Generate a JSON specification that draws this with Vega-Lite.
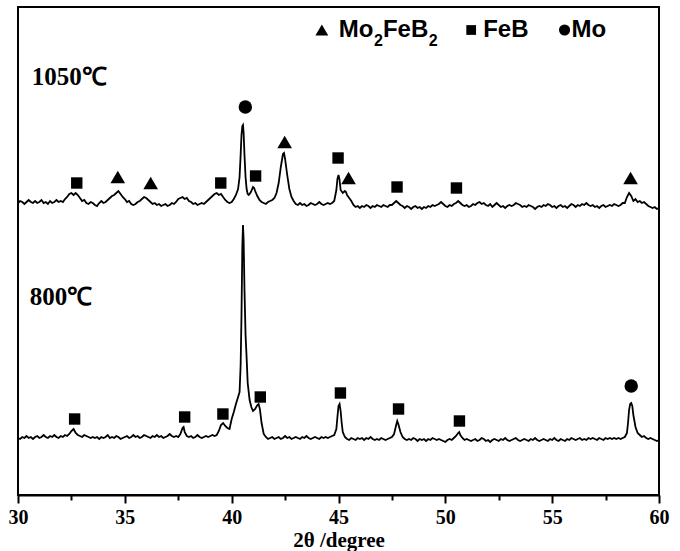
{
"$schema": "https://vega.github.io/schema/vega-lite/v6.json",
"width": 641, "height": 488,
"autosize": {"type": "none"},
"padding": {"left": 18, "top": 7, "right": 21, "bottom": 56},
"background": "white",
"config": {"view": {"stroke": "black", "strokeWidth": 2}},
"datasets": {
"a": [
{"x":30.0,"y":292},{"x":30.1,"y":294},{"x":30.2,"y":293},{"x":30.3,"y":291},{"x":30.4,"y":293},{"x":30.5,"y":295},{"x":30.6,"y":293},{"x":30.7,"y":292},{"x":30.8,"y":294},{"x":30.9,"y":292},
{"x":31.0,"y":293},{"x":31.1,"y":295},{"x":31.2,"y":292},{"x":31.3,"y":293},{"x":31.4,"y":291},{"x":31.5,"y":294},{"x":31.6,"y":292},{"x":31.7,"y":293},{"x":31.8,"y":295},{"x":31.9,"y":293},
{"x":32.0,"y":294},{"x":32.1,"y":293},{"x":32.2,"y":296},{"x":32.3,"y":298},{"x":32.4,"y":301},{"x":32.5,"y":302},{"x":32.6,"y":300},{"x":32.7,"y":302},{"x":32.8,"y":300},{"x":32.9,"y":297},
{"x":33.0,"y":294},{"x":33.1,"y":295},{"x":33.2,"y":292},{"x":33.3,"y":291},{"x":33.4,"y":293},{"x":33.5,"y":292},{"x":33.6,"y":290},{"x":33.7,"y":289},{"x":33.8,"y":292},{"x":33.9,"y":294},
{"x":34.0,"y":292},{"x":34.1,"y":293},{"x":34.2,"y":295},{"x":34.3,"y":297},{"x":34.4,"y":299},{"x":34.5,"y":300},{"x":34.6,"y":302},{"x":34.7,"y":304},{"x":34.8,"y":301},{"x":34.9,"y":298},
{"x":35.0,"y":296},{"x":35.1,"y":293},{"x":35.2,"y":294},{"x":35.3,"y":291},{"x":35.4,"y":290},{"x":35.5,"y":291},{"x":35.6,"y":293},{"x":35.7,"y":294},{"x":35.8,"y":296},{"x":35.9,"y":298},
{"x":36.0,"y":297},{"x":36.1,"y":295},{"x":36.2,"y":293},{"x":36.3,"y":291},{"x":36.4,"y":292},{"x":36.5,"y":290},{"x":36.6,"y":291},{"x":36.7,"y":289},{"x":36.8,"y":290},{"x":36.9,"y":291},
{"x":37.0,"y":289},{"x":37.1,"y":290},{"x":37.2,"y":292},{"x":37.3,"y":291},{"x":37.4,"y":293},{"x":37.5,"y":296},{"x":37.6,"y":297},{"x":37.7,"y":298},{"x":37.8,"y":296},{"x":37.9,"y":297},
{"x":38.0,"y":294},{"x":38.1,"y":293},{"x":38.2,"y":291},{"x":38.3,"y":292},{"x":38.4,"y":290},{"x":38.5,"y":291},{"x":38.6,"y":292},{"x":38.7,"y":291},{"x":38.8,"y":293},{"x":38.9,"y":295},
{"x":39.0,"y":297},{"x":39.1,"y":299},{"x":39.2,"y":301},{"x":39.3,"y":302},{"x":39.4,"y":300},{"x":39.5,"y":301},{"x":39.6,"y":298},{"x":39.7,"y":295},{"x":39.8,"y":293},{"x":39.9,"y":292},
{"x":40.0,"y":293},{"x":40.1,"y":296},{"x":40.2,"y":300},{"x":40.3,"y":306},{"x":40.37,"y":318},{"x":40.42,"y":340},{"x":40.46,"y":360},{"x":40.5,"y":369},{"x":40.53,"y":370},{"x":40.56,"y":362},
{"x":40.6,"y":340},{"x":40.65,"y":318},{"x":40.7,"y":306},{"x":40.75,"y":301},{"x":40.8,"y":300},{"x":40.9,"y":303},{"x":41.0,"y":308},{"x":41.05,"y":307},{"x":41.1,"y":304},{"x":41.2,"y":299},
{"x":41.3,"y":295},{"x":41.4,"y":293},{"x":41.5,"y":292},{"x":41.6,"y":291},{"x":41.7,"y":293},{"x":41.8,"y":294},{"x":41.9,"y":295},{"x":42.0,"y":297},{"x":42.1,"y":302},{"x":42.2,"y":312},
{"x":42.3,"y":328},{"x":42.4,"y":341},{"x":42.45,"y":342},{"x":42.5,"y":336},{"x":42.6,"y":320},{"x":42.7,"y":306},{"x":42.8,"y":298},{"x":42.9,"y":294},{"x":43.0,"y":291},{"x":43.1,"y":290},
{"x":43.2,"y":292},{"x":43.3,"y":290},{"x":43.4,"y":291},{"x":43.5,"y":289},{"x":43.6,"y":290},{"x":43.7,"y":292},{"x":43.8,"y":291},{"x":43.9,"y":290},{"x":44.0,"y":291},{"x":44.1,"y":293},
{"x":44.2,"y":291},{"x":44.3,"y":290},{"x":44.4,"y":291},{"x":44.5,"y":292},{"x":44.6,"y":291},{"x":44.7,"y":292},{"x":44.8,"y":294},{"x":44.9,"y":305},{"x":44.95,"y":316},{"x":45.0,"y":320},
{"x":45.05,"y":315},{"x":45.1,"y":305},{"x":45.2,"y":302},{"x":45.3,"y":304},{"x":45.35,"y":303},{"x":45.4,"y":300},{"x":45.5,"y":297},{"x":45.6,"y":294},{"x":45.7,"y":290},{"x":45.8,"y":288},
{"x":45.9,"y":289},{"x":46.0,"y":287},{"x":46.1,"y":289},{"x":46.2,"y":288},{"x":46.3,"y":290},{"x":46.4,"y":289},{"x":46.5,"y":287},{"x":46.6,"y":289},{"x":46.7,"y":288},{"x":46.8,"y":290},
{"x":46.9,"y":289},{"x":47.0,"y":288},{"x":47.1,"y":290},{"x":47.2,"y":289},{"x":47.3,"y":288},{"x":47.4,"y":290},{"x":47.5,"y":290},{"x":47.6,"y":292},{"x":47.7,"y":294},{"x":47.8,"y":292},
{"x":47.9,"y":290},{"x":48.0,"y":289},{"x":48.1,"y":287},{"x":48.2,"y":289},{"x":48.3,"y":288},{"x":48.4,"y":286},{"x":48.5,"y":288},{"x":48.6,"y":289},{"x":48.7,"y":287},{"x":48.8,"y":288},
{"x":48.9,"y":286},{"x":49.0,"y":288},{"x":49.1,"y":287},{"x":49.2,"y":289},{"x":49.3,"y":288},{"x":49.4,"y":290},{"x":49.5,"y":289},{"x":49.6,"y":290},{"x":49.7,"y":291},{"x":49.8,"y":293},
{"x":49.9,"y":291},{"x":50.0,"y":289},{"x":50.1,"y":288},{"x":50.2,"y":290},{"x":50.3,"y":289},{"x":50.4,"y":291},{"x":50.5,"y":292},{"x":50.6,"y":294},{"x":50.7,"y":292},{"x":50.8,"y":290},
{"x":50.9,"y":289},{"x":51.0,"y":290},{"x":51.1,"y":288},{"x":51.2,"y":289},{"x":51.3,"y":291},{"x":51.4,"y":290},{"x":51.5,"y":292},{"x":51.6,"y":293},{"x":51.7,"y":291},{"x":51.8,"y":292},
{"x":51.9,"y":290},{"x":52.0,"y":289},{"x":52.1,"y":291},{"x":52.2,"y":288},{"x":52.3,"y":290},{"x":52.4,"y":292},{"x":52.5,"y":290},{"x":52.6,"y":288},{"x":52.7,"y":289},{"x":52.8,"y":287},
{"x":52.9,"y":289},{"x":53.0,"y":290},{"x":53.1,"y":289},{"x":53.2,"y":290},{"x":53.3,"y":292},{"x":53.4,"y":291},{"x":53.5,"y":290},{"x":53.6,"y":288},{"x":53.7,"y":289},{"x":53.8,"y":288},
{"x":53.9,"y":290},{"x":54.0,"y":289},{"x":54.1,"y":288},{"x":54.2,"y":286},{"x":54.3,"y":288},{"x":54.4,"y":289},{"x":54.5,"y":288},{"x":54.6,"y":290},{"x":54.7,"y":289},{"x":54.8,"y":291},
{"x":54.9,"y":290},{"x":55.0,"y":288},{"x":55.1,"y":289},{"x":55.2,"y":287},{"x":55.3,"y":289},{"x":55.4,"y":290},{"x":55.5,"y":288},{"x":55.6,"y":289},{"x":55.7,"y":287},{"x":55.8,"y":289},
{"x":55.9,"y":291},{"x":56.0,"y":290},{"x":56.1,"y":288},{"x":56.2,"y":290},{"x":56.3,"y":289},{"x":56.4,"y":291},{"x":56.5,"y":290},{"x":56.6,"y":292},{"x":56.7,"y":290},{"x":56.8,"y":289},
{"x":56.9,"y":290},{"x":57.0,"y":288},{"x":57.1,"y":289},{"x":57.2,"y":287},{"x":57.3,"y":289},{"x":57.4,"y":290},{"x":57.5,"y":288},{"x":57.6,"y":289},{"x":57.7,"y":290},{"x":57.8,"y":289},
{"x":57.9,"y":291},{"x":58.0,"y":290},{"x":58.1,"y":289},{"x":58.2,"y":290},{"x":58.3,"y":292},{"x":58.4,"y":292},{"x":58.5,"y":298},{"x":58.6,"y":302},{"x":58.7,"y":299},{"x":58.8,"y":294},
{"x":58.9,"y":296},{"x":59.0,"y":293},{"x":59.1,"y":294},{"x":59.2,"y":292},{"x":59.3,"y":293},{"x":59.4,"y":291},{"x":59.5,"y":289},{"x":59.6,"y":288},{"x":59.7,"y":287},{"x":59.8,"y":288},
{"x":59.9,"y":286},{"x":60.0,"y":287}
],
"b": [
{"x":30.0,"y":57},{"x":30.1,"y":56},{"x":30.2,"y":58},{"x":30.3,"y":57},{"x":30.4,"y":59},{"x":30.5,"y":57},{"x":30.6,"y":58},{"x":30.7,"y":56},{"x":30.8,"y":58},{"x":30.9,"y":59},
{"x":31.0,"y":57},{"x":31.1,"y":58},{"x":31.2,"y":60},{"x":31.3,"y":58},{"x":31.4,"y":57},{"x":31.5,"y":59},{"x":31.6,"y":58},{"x":31.7,"y":60},{"x":31.8,"y":58},{"x":31.9,"y":57},
{"x":32.0,"y":59},{"x":32.1,"y":58},{"x":32.2,"y":60},{"x":32.3,"y":59},{"x":32.4,"y":61},{"x":32.5,"y":64},{"x":32.6,"y":66},{"x":32.7,"y":62},{"x":32.8,"y":60},{"x":32.9,"y":59},
{"x":33.0,"y":58},{"x":33.1,"y":60},{"x":33.2,"y":59},{"x":33.3,"y":58},{"x":33.4,"y":57},{"x":33.5,"y":58},{"x":33.6,"y":57},{"x":33.7,"y":58},{"x":33.8,"y":56},{"x":33.9,"y":58},
{"x":34.0,"y":57},{"x":34.1,"y":58},{"x":34.2,"y":60},{"x":34.3,"y":57},{"x":34.4,"y":58},{"x":34.5,"y":57},{"x":34.6,"y":59},{"x":34.7,"y":58},{"x":34.8,"y":56},{"x":34.9,"y":57},
{"x":35.0,"y":58},{"x":35.1,"y":59},{"x":35.2,"y":57},{"x":35.3,"y":58},{"x":35.4,"y":60},{"x":35.5,"y":58},{"x":35.6,"y":59},{"x":35.7,"y":57},{"x":35.8,"y":58},{"x":35.9,"y":60},
{"x":36.0,"y":59},{"x":36.1,"y":58},{"x":36.2,"y":57},{"x":36.3,"y":59},{"x":36.4,"y":58},{"x":36.5,"y":60},{"x":36.6,"y":58},{"x":36.7,"y":59},{"x":36.8,"y":57},{"x":36.9,"y":58},
{"x":37.0,"y":59},{"x":37.1,"y":61},{"x":37.2,"y":59},{"x":37.3,"y":58},{"x":37.4,"y":59},{"x":37.5,"y":58},{"x":37.6,"y":61},{"x":37.7,"y":67},{"x":37.75,"y":68},{"x":37.8,"y":63},
{"x":37.9,"y":59},{"x":38.0,"y":58},{"x":38.1,"y":59},{"x":38.2,"y":57},{"x":38.3,"y":58},{"x":38.4,"y":60},{"x":38.5,"y":58},{"x":38.6,"y":57},{"x":38.7,"y":58},{"x":38.8,"y":59},
{"x":38.9,"y":58},{"x":39.0,"y":59},{"x":39.1,"y":60},{"x":39.2,"y":59},{"x":39.3,"y":60},{"x":39.4,"y":64},{"x":39.5,"y":70},{"x":39.6,"y":72},{"x":39.7,"y":69},{"x":39.8,"y":67},
{"x":39.9,"y":66},{"x":40.0,"y":76},{"x":40.1,"y":83},{"x":40.2,"y":91},{"x":40.3,"y":98},{"x":40.37,"y":103},{"x":40.42,"y":130},{"x":40.46,"y":180},{"x":40.5,"y":250},{"x":40.53,"y":270},
{"x":40.56,"y":255},{"x":40.6,"y":205},{"x":40.65,"y":160},{"x":40.69,"y":142},{"x":40.75,"y":112},{"x":40.84,"y":95},{"x":40.92,"y":88},{"x":41.0,"y":84},{"x":41.1,"y":86},{"x":41.2,"y":90},
{"x":41.26,"y":91},{"x":41.32,"y":86},{"x":41.4,"y":72},{"x":41.5,"y":61},{"x":41.6,"y":58},{"x":41.7,"y":56},{"x":41.8,"y":57},{"x":41.9,"y":58},{"x":42.0,"y":56},{"x":42.1,"y":57},
{"x":42.2,"y":58},{"x":42.3,"y":56},{"x":42.4,"y":57},{"x":42.5,"y":59},{"x":42.6,"y":57},{"x":42.7,"y":58},{"x":42.8,"y":56},{"x":42.9,"y":57},{"x":43.0,"y":58},{"x":43.1,"y":57},
{"x":43.2,"y":56},{"x":43.3,"y":58},{"x":43.4,"y":57},{"x":43.5,"y":59},{"x":43.6,"y":57},{"x":43.7,"y":56},{"x":43.8,"y":57},{"x":43.9,"y":58},{"x":44.0,"y":57},{"x":44.1,"y":56},
{"x":44.2,"y":58},{"x":44.3,"y":57},{"x":44.4,"y":58},{"x":44.5,"y":57},{"x":44.6,"y":58},{"x":44.7,"y":59},{"x":44.8,"y":60},{"x":44.9,"y":66},{"x":44.95,"y":78},{"x":45.0,"y":89},
{"x":45.05,"y":91},{"x":45.1,"y":84},{"x":45.15,"y":72},{"x":45.2,"y":63},{"x":45.3,"y":58},{"x":45.4,"y":56},{"x":45.5,"y":55},{"x":45.6,"y":57},{"x":45.7,"y":56},{"x":45.8,"y":55},
{"x":45.9,"y":57},{"x":46.0,"y":56},{"x":46.1,"y":57},{"x":46.2,"y":55},{"x":46.3,"y":57},{"x":46.4,"y":56},{"x":46.5,"y":58},{"x":46.6,"y":56},{"x":46.7,"y":55},{"x":46.8,"y":56},
{"x":46.9,"y":55},{"x":47.0,"y":57},{"x":47.1,"y":56},{"x":47.2,"y":55},{"x":47.3,"y":56},{"x":47.4,"y":57},{"x":47.5,"y":58},{"x":47.6,"y":61},{"x":47.7,"y":70},{"x":47.75,"y":74},
{"x":47.8,"y":71},{"x":47.9,"y":63},{"x":48.0,"y":58},{"x":48.1,"y":56},{"x":48.2,"y":55},{"x":48.3,"y":56},{"x":48.4,"y":55},{"x":48.5,"y":57},{"x":48.6,"y":56},{"x":48.7,"y":54},
{"x":48.8,"y":56},{"x":48.9,"y":55},{"x":49.0,"y":56},{"x":49.1,"y":54},{"x":49.2,"y":56},{"x":49.3,"y":55},{"x":49.4,"y":57},{"x":49.5,"y":56},{"x":49.6,"y":55},{"x":49.7,"y":56},
{"x":49.8,"y":55},{"x":49.9,"y":54},{"x":50.0,"y":53},{"x":50.1,"y":55},{"x":50.2,"y":56},{"x":50.3,"y":55},{"x":50.4,"y":57},{"x":50.5,"y":59},{"x":50.6,"y":62},{"x":50.65,"y":63},
{"x":50.7,"y":60},{"x":50.8,"y":57},{"x":50.9,"y":55},{"x":51.0,"y":56},{"x":51.1,"y":55},{"x":51.2,"y":54},{"x":51.3,"y":55},{"x":51.4,"y":56},{"x":51.5,"y":54},{"x":51.6,"y":55},
{"x":51.7,"y":57},{"x":51.8,"y":56},{"x":51.9,"y":54},{"x":52.0,"y":55},{"x":52.1,"y":53},{"x":52.2,"y":55},{"x":52.3,"y":56},{"x":52.4,"y":55},{"x":52.5,"y":54},{"x":52.6,"y":56},
{"x":52.7,"y":55},{"x":52.8,"y":57},{"x":52.9,"y":55},{"x":53.0,"y":54},{"x":53.1,"y":55},{"x":53.2,"y":56},{"x":53.3,"y":57},{"x":53.4,"y":55},{"x":53.5,"y":54},{"x":53.6,"y":55},
{"x":53.7,"y":56},{"x":53.8,"y":55},{"x":53.9,"y":54},{"x":54.0,"y":56},{"x":54.1,"y":55},{"x":54.2,"y":57},{"x":54.3,"y":55},{"x":54.4,"y":54},{"x":54.5,"y":55},{"x":54.6,"y":56},
{"x":54.7,"y":55},{"x":54.8,"y":54},{"x":54.9,"y":56},{"x":55.0,"y":55},{"x":55.1,"y":57},{"x":55.2,"y":55},{"x":55.3,"y":54},{"x":55.4,"y":56},{"x":55.5,"y":55},{"x":55.6,"y":54},
{"x":55.7,"y":56},{"x":55.8,"y":55},{"x":55.9,"y":57},{"x":56.0,"y":56},{"x":56.1,"y":55},{"x":56.2,"y":56},{"x":56.3,"y":57},{"x":56.4,"y":55},{"x":56.5,"y":56},{"x":56.6,"y":55},
{"x":56.7,"y":57},{"x":56.8,"y":56},{"x":56.9,"y":57},{"x":57.0,"y":56},{"x":57.1,"y":55},{"x":57.2,"y":57},{"x":57.3,"y":56},{"x":57.4,"y":55},{"x":57.5,"y":57},{"x":57.6,"y":56},
{"x":57.7,"y":57},{"x":57.8,"y":56},{"x":57.9,"y":57},{"x":58.0,"y":56},{"x":58.1,"y":57},{"x":58.2,"y":56},{"x":58.3,"y":57},{"x":58.4,"y":58},{"x":58.5,"y":62},{"x":58.55,"y":72},
{"x":58.6,"y":85},{"x":58.65,"y":91},{"x":58.7,"y":92},{"x":58.75,"y":89},{"x":58.8,"y":80},{"x":58.9,"y":68},{"x":59.0,"y":62},{"x":59.1,"y":60},{"x":59.2,"y":58},{"x":59.3,"y":59},
{"x":59.4,"y":57},{"x":59.5,"y":56},{"x":59.6,"y":57},{"x":59.7,"y":56},{"x":59.8,"y":55},{"x":59.9,"y":54},{"x":60.0,"y":55}
],
"m": [
{"x":32.75,"y":312,"p":"FeB","k":"peak"},{"x":34.67,"y":318,"p":"Mo2FeB2","k":"peak"},{"x":36.21,"y":312,"p":"Mo2FeB2","k":"peak"},
{"x":39.49,"y":312,"p":"FeB","k":"peak"},{"x":40.64,"y":388,"p":"Mo","k":"peak"},{"x":41.12,"y":319,"p":"FeB","k":"peak"},
{"x":42.48,"y":353,"p":"Mo2FeB2","k":"peak"},{"x":44.98,"y":337,"p":"FeB","k":"peak"},{"x":45.47,"y":317,"p":"Mo2FeB2","k":"peak"},
{"x":47.74,"y":308,"p":"FeB","k":"peak"},{"x":50.52,"y":307,"p":"FeB","k":"peak"},{"x":58.67,"y":317,"p":"Mo2FeB2","k":"peak"},
{"x":32.65,"y":76,"p":"FeB","k":"peak"},{"x":37.80,"y":78,"p":"FeB","k":"peak"},{"x":39.59,"y":81,"p":"FeB","k":"peak"},
{"x":41.34,"y":98,"p":"FeB","k":"peak"},{"x":45.09,"y":102,"p":"FeB","k":"peak"},{"x":47.81,"y":86,"p":"FeB","k":"peak"},
{"x":50.66,"y":74,"p":"FeB","k":"peak"},{"x":58.70,"y":109,"p":"Mo","k":"peak"},
{"x":44.22,"y":465,"p":"Mo2FeB2","k":"key"},{"x":51.21,"y":465,"p":"FeB","k":"key"},{"x":55.58,"y":465,"p":"Mo","k":"key"}
],
"big": [
{"x":45.01,"y":465,"t":"Mo"},{"x":47.08,"y":465,"t":"FeB"},{"x":51.77,"y":465,"t":"FeB"},{"x":55.91,"y":465,"t":"Mo"}
],
"sub": [
{"x":46.66,"y":454,"t":"2"},{"x":49.22,"y":454,"t":"2"}
],
"temp": [
{"x":30.64,"y":418,"t":"1050℃"},{"x":30.55,"y":198,"t":"800℃"}
]
},
"encoding": {
"x": {"field": "x", "type": "quantitative",
 "scale": {"domain": [30, 60], "nice": false, "zero": false},
 "axis": {"values": [30,32.5,35,37.5,40,42.5,45,47.5,50,52.5,55,57.5,60],
  "labelExpr": "datum.value % 5 === 0 ? datum.label : ''",
  "tickSize": {"condition": {"test": "datum.value % 5 === 0", "value": 8}, "value": 5},
  "tickColor": "black", "tickWidth": 2, "domainColor": "black", "domainWidth": 2,
  "grid": false, "labelFlush": false, "labelOverlap": false,
  "labelFont": "Liberation Serif", "labelFontSize": 20, "labelFontWeight": "bold", "labelColor": "black", "labelPadding": 4,
  "title": "2θ /degree", "titleFont": "Liberation Serif", "titleFontSize": 21, "titleFontWeight": "bold", "titleColor": "black", "titlePadding": 2}},
"y": {"field": "y", "type": "quantitative", "scale": {"domain": [0, 488], "nice": false, "zero": false}, "axis": null}
},
"layer": [
{"data": {"name": "a"}, "mark": {"type": "line", "color": "black", "strokeWidth": 1.8, "interpolate": "linear"}},
{"data": {"name": "b"}, "mark": {"type": "line", "color": "black", "strokeWidth": 1.8, "interpolate": "linear"}},
{"data": {"name": "m"}, "transform": [{"filter": "datum.k === 'peak' && datum.p === 'Mo2FeB2'"}],
 "mark": {"type": "point", "filled": true, "color": "black", "opacity": 1, "shape": "triangle-up", "size": 215}},
{"data": {"name": "m"}, "transform": [{"filter": "datum.k === 'peak' && datum.p === 'FeB'"}],
 "mark": {"type": "point", "filled": true, "color": "black", "opacity": 1, "shape": "square", "size": 130}},
{"data": {"name": "m"}, "transform": [{"filter": "datum.k === 'peak' && datum.p === 'Mo'"}],
 "mark": {"type": "point", "filled": true, "color": "black", "opacity": 1, "shape": "circle", "size": 180}},
{"data": {"name": "m"}, "transform": [{"filter": "datum.k === 'key' && datum.p === 'Mo2FeB2'"}],
 "mark": {"type": "point", "filled": true, "color": "black", "opacity": 1, "shape": "triangle-up", "size": 165}},
{"data": {"name": "m"}, "transform": [{"filter": "datum.k === 'key' && datum.p === 'FeB'"}],
 "mark": {"type": "point", "filled": true, "color": "black", "opacity": 1, "shape": "square", "size": 95}},
{"data": {"name": "m"}, "transform": [{"filter": "datum.k === 'key' && datum.p === 'Mo'"}],
 "mark": {"type": "point", "filled": true, "color": "black", "opacity": 1, "shape": "circle", "size": 125}},
{"data": {"name": "big"}, "mark": {"type": "text", "align": "left", "baseline": "middle", "font": "Liberation Sans", "fontWeight": "bold", "fontSize": 24, "color": "black"},
 "encoding": {"text": {"field": "t"}}},
{"data": {"name": "sub"}, "mark": {"type": "text", "align": "left", "baseline": "middle", "font": "Liberation Sans", "fontWeight": "bold", "fontSize": 16, "color": "black"},
 "encoding": {"text": {"field": "t"}}},
{"data": {"name": "temp"}, "mark": {"type": "text", "align": "left", "baseline": "middle", "font": "Liberation Serif", "fontWeight": "bold", "fontSize": 25, "color": "black"},
 "encoding": {"text": {"field": "t"}}}
]
}
